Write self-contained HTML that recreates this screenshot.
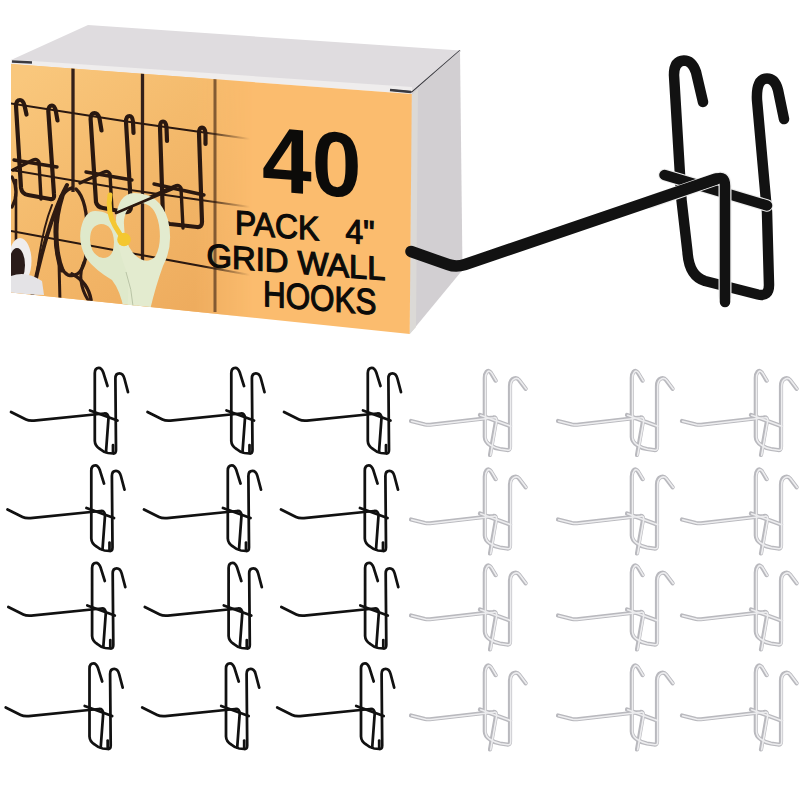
<!DOCTYPE html>
<html><head><meta charset="utf-8">
<style>
html,body{margin:0;padding:0;background:#fff;width:800px;height:800px;overflow:hidden}
svg{display:block}
text{font-family:"Liberation Sans",sans-serif}
</style></head><body>
<svg width="800" height="800" viewBox="0 0 800 800">
<defs>
<clipPath id="front"><polygon points="11,64 411.8,94 409.7,334 11,292.5"/></clipPath>
<linearGradient id="picbg" x1="20" y1="80" x2="200" y2="300" gradientUnits="userSpaceOnUse">
<stop offset="0" stop-color="#f9c77c"/><stop offset="0.45" stop-color="#f4ba6c"/><stop offset="1" stop-color="#eeac5e"/>
</linearGradient>
<linearGradient id="fadeg" x1="195" y1="0" x2="252" y2="0" gradientUnits="userSpaceOnUse">
<stop offset="0" stop-color="#fff"/><stop offset="1" stop-color="#000"/>
</linearGradient>
<mask id="picmask" maskUnits="userSpaceOnUse" x="0" y="0" width="800" height="800"><rect x="0" y="0" width="800" height="800" fill="url(#fadeg)"/></mask>
<linearGradient id="wirefade" x1="11" y1="0" x2="250" y2="0" gradientUnits="userSpaceOnUse">
<stop offset="0" stop-color="#2a1810"/><stop offset="0.8" stop-color="#2a1810"/><stop offset="1" stop-color="#2a1810" stop-opacity="0"/>
</linearGradient>
<g id="bh" fill="none" stroke="#111" stroke-width="2.75" stroke-linecap="round" stroke-linejoin="round">
<path d="M107.5 386 L103.4 372.8 Q101.6 367.8 98.8 367.8 Q94.8 367.8 94.8 373 L94.8 441 Q95 446 100 449 Q104 452.5 108 453 L113 453.5 Q116 454 116 450 L115.4 378.5 Q115.4 373.4 119.5 373.4 Q123 373.4 124.4 378.5 L128 392.2"/>
<path d="M90 410.5 L117.5 420.5"/>
<path d="M11 412 L26 419.5 Q29 421 34 420.6 L104 413.5 Q108.5 413 108.5 418 L106 452"/>
<path d="M113 445 L113 452"/>
</g>
<g id="wh" fill="none" stroke-linecap="round" stroke-linejoin="round">
<g stroke="#b9b9be" stroke-width="4.2">
<path id="whf" d="M495.6 380.6 L491 373 Q488.7 369.5 486.5 372 Q484.8 374 484.8 378 L484.8 437 Q485 442 490 445 Q494 448 500 449 L507 450 Q510 450.5 510 447 L510 386 Q510 380 514 378.5 Q517 377.5 519 380 L525.6 388.75"/>
<path id="whc" d="M480 415 L510 426"/>
<path id="wha" d="M411 421 L425 424.5 Q428 425 432 424.5 L493 417.5 Q496.5 417 496 421 L490 455"/>
</g>
<g stroke="#ededef" stroke-width="1.6" transform="translate(0.7 0.2)">
<use href="#whf"/><use href="#whc"/><use href="#wha"/>
</g>
</g>
</defs>

<!-- box -->
<polygon points="11,60 88,25 460,50.5 412,92" fill="#dfdcdf"/>
<polygon points="11,59.5 412,87 412.5,94 11,64" fill="#efeded"/>
<path d="M12 61.5 L32 62.5" stroke="#3a3a40" stroke-width="2.6"/>
<path d="M390 90 L412 92 L460 50.5" stroke="#3a3a40" stroke-width="1.6" fill="none"/>
<path d="M390 90 L411 92" stroke="#3a3a40" stroke-width="2.6"/>
<polygon points="411.5,93 460,50.5 462.5,270 409.7,334" fill="#d2cfd2"/>
<polygon points="411.5,95 418,89 416,327 409.7,334" fill="#dbd9d6"/>
<polygon points="11,64 411.8,94 409.7,334 11,292.5" fill="#fbbc6e"/>

<!-- picture -->
<g clip-path="url(#front)">
<rect x="11" y="60" width="245" height="260" fill="url(#picbg)" mask="url(#picmask)"/>
<g stroke="#33201a" stroke-width="3.3" fill="none">
<path d="M73 60 L73 192"/>
<path d="M142.5 60 L142.5 306"/>
</g>
<path d="M215 60 L215 312" stroke="#6f4b2a" stroke-width="3" opacity="0.85"/>
<g stroke="url(#wirefade)" stroke-width="2.2" fill="none">
<path d="M11 103.5 L130 122 L250 139"/>
<path d="M11 170 L130 190 L250 207"/>
<path d="M11 231 L130 253 L250 275"/>
</g>
<g stroke="#2a1810" stroke-width="4.2" fill="none" stroke-linecap="round" stroke-linejoin="round">
<path d="M26.5 114.5 L24.5 105.5 Q23 100 20 100 Q16.2 100 16 106 L21 188 Q22 194 28 195 L50 199 Q55 200 54 194 L48.3 111 Q48.5 105.5 52 105.5 Q54.5 105.5 55.8 111 L57.5 120.5"/>
<path d="M101.5 130.5 L99.5 118.5 Q98 113 94.5 113 Q90.8 113 90.6 119 L96 202 Q97 207 103 208 L125 212 Q131 213 131 207 L126 122 Q126 116 129.5 116 Q132.5 116 133 122 L133.5 133"/>
<path d="M167 141 L166.5 127.5 Q166 121.5 163 121.5 Q160 121.5 160 127.5 L163 218 Q164 223 170 224 L197 227 Q202 227.5 202 222 L199 133.5 Q199 127.7 202 127.7 Q205 127.7 205.5 133.5 L205.5 144"/>
</g>
<g stroke="#2a1810" stroke-width="3.4" fill="none" stroke-linecap="round" stroke-linejoin="round">
<path d="M14 160 L57 167"/>
<path d="M13 170 L33 160 Q37 158 39 162 L41 199"/>
<path d="M86 172 L132 180"/>
<path d="M80 183 L104 172 Q108 170 110 174 L112 210"/>
<path d="M154 184 L204 195"/>
<path d="M117 212 L175 186 Q179 184 181 188 L183 228"/>
</g>
<!-- glasses -->
<g stroke="#2e1a12" fill="none" stroke-linecap="round">
<path d="M72 188 Q57 192 55.5 225 Q55 268 68 275 Q86 280 87.5 240 Q88 200 76 189" stroke-width="3.4"/>
<path d="M62 196 Q56 215 56 232 Q56 255 62 270" stroke-width="5"/>
<path d="M67 185 Q48 220 32.5 294" stroke-width="4"/>
<path d="M52 205 Q40 235 35 290" stroke-width="2"/>
<path d="M72 274 Q88 282 91 300" stroke-width="3.6"/>
<path d="M12 177 Q20 192 12 207" stroke-width="3.2"/>
<path d="M16 180 L16 243" stroke-width="2.6"/>
<path d="M59 262 L60 302" stroke-width="3"/>
<path d="M84 262 Q76 280 88 300" stroke-width="3"/>
</g>
<!-- cup -->
<ellipse cx="20" cy="261" rx="11.5" ry="23" fill="#efeded"/>
<ellipse cx="17" cy="265" rx="8" ry="17" fill="#2a1c1a"/>
<path d="M11 276 Q26 270 42 281 L44 295 L11 294 Z" fill="#e4e3e6"/>

<!-- scissors -->
<path fill="#dfe9cb" fill-rule="evenodd" d="M95 211 Q110 211 117 224 L122 250 Q128 268 134 280 L138 310 L124 310 Q120 290 112 280 Q95 270 86 258 Q78 243 81 228 Q85 211 95 211 Z M101 224 Q90 225 90 240 Q91 256 103 258 Q114 258 114 242 Q113 224 101 224 Z"/>
<path fill="#e3ebcf" fill-rule="evenodd" d="M134 193 Q160 193 168 220 Q174 245 163 266 Q156 285 150 310 L127 310 Q130 285 126 270 Q116 245 116 218 Q118 194 134 193 Z M140 203 Q126 204 124 220 Q123 240 133 253 Q145 266 155 257 Q162 245 159 225 Q155 203 140 203 Z"/>
<path d="M126 272 Q132 290 133 306" stroke="#b9c4a6" stroke-width="1" fill="none"/>
<path d="M116 213 L175 188" stroke="#2a1810" stroke-width="2.6" stroke-linecap="round"/>
<path d="M110 195 Q107 212 115 226 L123 239" stroke="#f4c731" stroke-width="5" fill="none" stroke-linecap="round"/>
<circle cx="124" cy="239.5" r="6.8" fill="#f4c731"/>
</g>

<!-- text -->
<g fill="#0c0b09">
<text x="262" y="190.4" font-size="92" font-weight="bold" transform="translate(262 190.4) skewY(4.4) translate(-262 -190.4)" textLength="99.5" lengthAdjust="spacingAndGlyphs">40</text>
<text x="235" y="234" font-size="33.8" stroke="#0c0b09" stroke-width="1.2" transform="translate(235 234) skewY(4.4) translate(-235 -234)" textLength="139.5" lengthAdjust="spacingAndGlyphs" xml:space="preserve">PACK   4"</text>
<text x="206.5" y="266.5" font-size="32.7" stroke="#0c0b09" stroke-width="1.2" transform="translate(206.5 266.5) skewY(4.4) translate(-206.5 -266.5)" textLength="179" lengthAdjust="spacingAndGlyphs">GRID WALL</text>
<text x="263" y="306" font-size="36" stroke="#0c0b09" stroke-width="1.2" transform="translate(263 306) skewY(4.4) translate(-263 -306)" textLength="113.5" lengthAdjust="spacingAndGlyphs">HOOKS</text>
</g>

<!-- big hook -->
<g fill="none" stroke="#121212" stroke-width="10.5" stroke-linecap="round" stroke-linejoin="round">
<path d="M703 102 L696 72 Q692 60.5 684 60.5 Q674 61 674 75 L681.5 200 L687.5 252 Q689 276 705 281 L758 294.5 Q769 297 769 285 L767 212 L757 100 Q756 78.5 767 78.5 Q775 78.5 778 90 L784 119"/>
<path d="M664.5 175 L767 205.5" stroke="#ececec" stroke-width="12.5"/>
<path d="M664.5 175 L767 205.5"/>
<path d="M650 202 L716 179 Q725 175 725 186 L725 296" stroke="#ececec" stroke-width="13"/>
<path d="M411 251.5 L448 264.5 Q456 267.5 465 264.5 L716 179" stroke-width="11.5"/>
<path d="M700 184.5 L716 179 Q725 175 725 186 L725 302"/>
</g>

<!-- small black hooks -->
<use href="#bh"/>
<use href="#bh" transform="translate(136.5 0)"/>
<use href="#bh" transform="translate(273 0)"/>
<use href="#bh" transform="translate(-3.5 97.5)"/>
<use href="#bh" transform="translate(133 97.5)"/>
<use href="#bh" transform="translate(270 97.5)"/>
<use href="#bh" transform="translate(-2.7 195)"/>
<use href="#bh" transform="translate(133.8 195)"/>
<use href="#bh" transform="translate(270.3 195)"/>
<use href="#bh" transform="translate(-5.3 295.5)"/>
<use href="#bh" transform="translate(131.2 295.5)"/>
<use href="#bh" transform="translate(266.2 295.5)"/>

<!-- white hooks -->
<use href="#wh"/>
<use href="#wh" transform="translate(147 0)"/>
<use href="#wh" transform="translate(271 0)"/>
<use href="#wh" transform="translate(0 98.5)"/>
<use href="#wh" transform="translate(147 98.5)"/>
<use href="#wh" transform="translate(271 98.5)"/>
<use href="#wh" transform="translate(0 194.5)"/>
<use href="#wh" transform="translate(147 194.5)"/>
<use href="#wh" transform="translate(271 194.5)"/>
<use href="#wh" transform="translate(0 294.5)"/>
<use href="#wh" transform="translate(147 294.5)"/>
<use href="#wh" transform="translate(271 294.5)"/>
</svg>
</body></html>
